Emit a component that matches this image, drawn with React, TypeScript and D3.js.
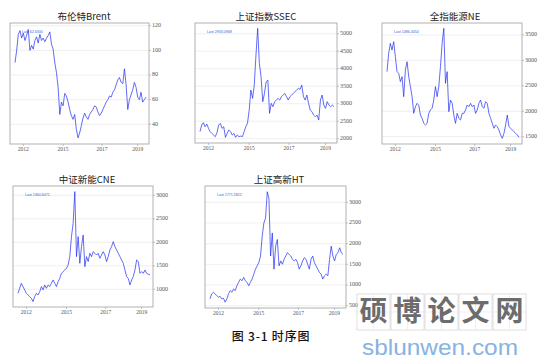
import React from 'react';
import * as d3 from 'd3';

// series values (one point per ~1.6px)
const brent = [90, 100, 113, 116, 110, 114, 108, 112, 117, 100, 104, 101, 108, 111, 106, 113, 108, 110, 107, 110,
  112, 115, 105, 101, 90, 82, 70, 48, 58, 55, 65, 63, 58, 52, 47, 44, 48, 36, 29, 33,
  39, 45, 49, 46, 44, 48, 50, 52, 55, 54, 50, 47, 49, 52, 55, 58, 60, 63, 62, 66,
  68, 72, 76, 78, 74, 73, 85, 72, 52, 60, 64, 68, 74, 70, 62, 60, 66, 58, 60, 62];

const ssec = [2200, 2390, 2457, 2343, 2419, 2295, 2200, 2152, 2105, 2057, 2171, 2390, 2438, 2295, 2343, 2038, 2152, 2248, 2200, 2105,
  2152, 2038, 2105, 2057, 2076, 2057, 2200, 2343, 2438, 2819, 3390, 3152, 3533, 4390, 5152, 4152, 3771, 3057, 3295, 3629,
  3676, 2724, 3010, 2914, 3057, 3105, 3152, 3105, 3200, 3248, 3295, 3200, 3105, 3200, 3248, 3295, 3343, 3390, 3438, 3410,
  3533, 3200, 3105, 3248, 3010, 2819, 2771, 2676, 2629, 2676, 2533, 3105, 3248, 2962, 2867, 3057, 2962, 2914, 2962, 2914];

const ne = [2779, 3139, 3336, 3205, 3369, 3074, 2779, 2746, 2582, 2680, 2287, 2812, 2975, 2680, 2484, 2287, 1959, 2090, 2156, 2120,
  1926, 1861, 1762, 1730, 1762, 1959, 2025, 2060, 2221, 2484, 2287, 2484, 2877, 3336, 3631, 2549, 2779, 1992, 2221, 2156,
  1926, 1762, 1959, 1860, 1828, 1959, 1959, 2025, 2123, 2090, 2156, 2090, 2123, 1959, 2025, 2156, 2221, 2090, 2060, 2189,
  2156, 1959, 1861, 1762, 1664, 1730, 1697, 1631, 1533, 1467, 1566, 1730, 1926, 1697, 1664, 1631, 1598, 1566, 1533, 1486];

const cne = [915, 1021, 1128, 1057, 986, 915, 879, 844, 809, 738, 844, 915, 879, 950, 1057, 986, 1092, 1021, 1092, 1057,
  1128, 1199, 1128, 1057, 1163, 1234, 1340, 1376, 1411, 1447, 1518, 1695, 2121, 2404, 3078, 1695, 2121, 1553, 1908, 2156,
  1482, 1695, 1589, 1766, 1695, 1801, 1766, 1730, 1766, 1660, 1730, 1801, 1730, 1589, 1695, 1837, 1908, 2014, 1908, 1837,
  1766, 1695, 1624, 1553, 1411, 1270, 1234, 1092, 1199, 1270, 1411, 1624, 1589, 1340, 1376, 1340, 1411, 1340, 1320, 1305];

const ht = [665, 785, 825, 785, 745, 705, 725, 665, 680, 586, 665, 785, 865, 825, 904, 865, 984, 1064, 1143, 1103,
  1183, 1103, 1064, 984, 1064, 1143, 1263, 1383, 1462, 1542, 1701, 2179, 2498, 2618, 3255, 3096, 1701, 2259, 1383, 1940,
  2100, 1462, 1582, 1502, 1622, 1701, 1781, 1741, 1701, 1622, 1582, 1622, 1542, 1383, 1462, 1582, 1661, 1622, 1502, 1383,
  1622, 1701, 1542, 1462, 1383, 1303, 1263, 1143, 1223, 1263, 1223, 1622, 1940, 1701, 1582, 1741, 1781, 1900, 1781, 1741];

const titles = ['布伦特Brent', '上证指数SSEC', '全指能源NE', '中证新能CNE', '上证高新HT'];
const lastLabels = ['Last 62.6300', 'Last 2933.0968', 'Last 1486.4054', 'Last 1360.6071', 'Last 1771.5822'];
const yTicks = [
  [40, 60, 80, 100, 120],
  [2000, 2500, 3000, 3500, 4000, 4500, 5000],
  [1500, 2000, 2500, 3000, 3500],
  [1000, 1500, 2000, 2500, 3000],
  [500, 1000, 1500, 2000, 2500, 3000],
];
const yDomains = [[24, 122.2], [1877, 5306], [1356, 3736], [623, 3198], [444, 3394]];
const yearLabels = ['2012', '2015', '2017', '2019'];
const yearIdx = [5, 29, 52.5, 74];

const series = [brent, ssec, ne, cne, ht];

// panel frames on the page
const frames = [
  { x0: 10, x1: 149, y0: 23, y1: 144, tx: 84, ty: 17 },
  { x0: 195, x1: 337, y0: 23, y1: 143, tx: 266, ty: 17 },
  { x0: 382, x1: 522, y0: 23, y1: 144, tx: 455, ty: 17 },
  { x0: 13, x1: 153, y0: 186, y1: 307, tx: 87, ty: 180 },
  { x0: 205, x1: 346, y0: 186, y1: 308, tx: 279, ty: 180 },
];

const tickFont = '"Liberation Serif", "DejaVu Serif", serif';
const cjkFont = '"Noto Sans CJK SC", "Noto Sans", sans-serif';

function Panel({ i }: { i: number }) {
  const f = frames[i];
  const data = series[i];
  const x = d3.scaleLinear().domain([0, data.length - 1]).range([f.x0 + 5, f.x1 - 3]);
  const y = d3.scaleLinear().domain(yDomains[i]).range([f.y1, f.y0]);
  const line = d3.line<number>().x((d, k) => x(k)).y(d => y(d));

  return (
    <g>
      <text x={f.tx} y={f.ty} textAnchor="middle" dominantBaseline="middle"
        fontFamily={cjkFont} fontSize={9.5} fill="#222">{titles[i]}</text>
      <rect x={f.x0} y={f.y0} width={f.x1 - f.x0} height={f.y1 - f.y0} fill="#fff" />
      {yTicks[i].map(t => (
        <g key={t}>
          <line x1={f.x0} x2={f.x1} y1={y(t)} y2={y(t)} stroke="#ebebeb" strokeWidth={0.8} />
          <line x1={f.x1} x2={f.x1 + 2} y1={y(t)} y2={y(t)} stroke="#999" strokeWidth={0.6} />
          <text x={f.x1 + 3} y={y(t)} dominantBaseline="middle" fontFamily={tickFont}
            fontSize={6} fill="#555">{t}</text>
        </g>
      ))}
      {yearIdx.map((v, k) => (
        <g key={k}>
          <line x1={x(v)} x2={x(v)} y1={f.y1} y2={f.y1 + 2} stroke="#999" strokeWidth={0.6} />
          <text x={x(v)} y={f.y1 + 5.5} textAnchor="middle" dominantBaseline="middle"
            fontFamily={tickFont} fontSize={5.5} fill="#555">{yearLabels[k]}</text>
        </g>
      ))}
      <path d={line(data) || ''} fill="none" stroke="#1f2df0" strokeWidth={0.7} strokeLinejoin="round" />
      <rect x={f.x0} y={f.y0} width={f.x1 - f.x0} height={f.y1 - f.y0} fill="none"
        stroke="#a8a8a8" strokeWidth={0.9} />
      <text x={f.x0 + 12} y={f.y0 + 9} dominantBaseline="middle" fontFamily="Arial, 'Liberation Sans', sans-serif"
        fontSize={3.6} fill="#3a5fd8">{lastLabels[i]}</text>
    </g>
  );
}

const wmChars = ['硕', '博', '论', '文', '网'];

export default function App() {
  return (
    <div style={{ position: 'absolute', left: 0, top: 0 }}>
      <svg width={544} height={364} style={{ display: 'block', background: '#fff' }}>
        {frames.map((_, i) => <Panel key={i} i={i} />)}
        <text x={271} y={338} textAnchor="middle" dominantBaseline="middle" fontFamily={cjkFont}
          fontSize={12} fontWeight={500} letterSpacing={0.8} fill="#111">图 3-1 时序图</text>
        {wmChars.map((c, k) => (
          <g key={c}>
            <rect x={357 + k * 34} y={294} width={33} height={36} fill="none" stroke="#d6d6d6" strokeWidth={0.8} />
            <line x1={357 + k * 34 + 16.5} x2={357 + k * 34 + 16.5} y1={294} y2={330} stroke="#e4e4e4" strokeWidth={0.6} />
            <line x1={357 + k * 34} x2={357 + k * 34 + 33} y1={312} y2={312} stroke="#e4e4e4" strokeWidth={0.6} />
            <text x={357 + k * 34 + 16.5} y={313} textAnchor="middle" dominantBaseline="middle"
              fontFamily={cjkFont} fontSize={28} fontWeight={700} fill="#6c6c6c">{c}</text>
          </g>
        ))}
        <text x={362} y={355} fontFamily="Arial, 'Liberation Sans', sans-serif" fontSize={22}
          textLength={156} lengthAdjust="spacingAndGlyphs" fill="#86b3e2">sblunwen.com</text>
      </svg>
    </div>
  );
}
